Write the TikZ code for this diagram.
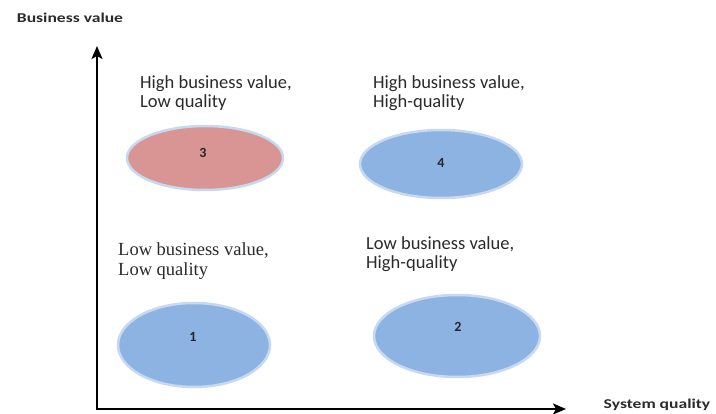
\documentclass[tikz,border=0pt]{standalone}
\usepackage{fontspec}
\setmainfont{Carlito}
\newfontfamily\serifface{Liberation Serif}
\usetikzlibrary{shapes.geometric,arrows.meta}
\definecolor{ellblue}{HTML}{8DB3E2}
\definecolor{ellpink}{HTML}{D99594}
\definecolor{glow}{HTML}{C6D9F1}
\definecolor{txt}{HTML}{2A2A2A}
\tikzset{
  quad/.style={ellipse, draw=glow, line width=2.5pt, inner sep=0pt},
  num/.style={font=\bfseries\fontsize{14}{14}\selectfont, text=black!85, inner sep=0pt},
  lblsans/.style={align=left, anchor=north west, inner sep=0pt, text=txt,
    font=\fontsize{18.5}{19}\selectfont},
  lblserif/.style={align=left, anchor=north west, inner sep=0pt, text=txt,
    font=\serifface\fontsize{18.5}{20}\selectfont},
  axlabel/.style={font=\bfseries\fontsize{13.5}{14}\selectfont, text=txt, inner sep=0pt, xscale=1.3},
  axis/.style={line width=2.2pt, line join=miter, {Stealth[length=13pt,width=11pt,inset=3pt]}-{Stealth[length=13pt,width=11pt,inset=3pt]}}
}
\begin{document}
\begin{tikzpicture}[x=1pt,y=-1pt]
\useasboundingbox (0,0) rectangle (716,414);
% axes
\coordinate (ytop) at (97,46);
\coordinate (origin) at (97,409);
\coordinate (xend) at (566,409);
\draw[axis] (ytop) -- (origin) -- (xend);
\node[axlabel] (ylab) at (70,18) {Business value};
\node[axlabel] (xlab) at (657,405) {System quality};
% ellipses
\node[quad, fill=ellpink, minimum width=156pt, minimum height=64pt] (e3) at (205,158) {};
\node[quad, fill=ellblue, minimum width=162pt, minimum height=68pt] (e4) at (441,164) {};
\node[quad, fill=ellblue, minimum width=152pt, minimum height=84pt] (e1) at (194,345) {};
\node[quad, fill=ellblue, minimum width=166pt, minimum height=82pt] (e2) at (457,336) {};
\node[num] (n3) at (203,153) {3};
\node[num] (n4) at (441,163) {4};
\node[num] (n1) at (193,337) {1};
\node[num] (n2) at (458,327) {2};
% labels
\node[lblsans] (l3) at (140,75) {High business value,\\Low quality};
\node[lblsans] (l4) at (373,75) {High business value,\\High-quality};
\node[lblserif] (l1) at (118,242) {Low business value,\\Low quality};
\node[lblsans] (l2) at (366,236) {Low business value,\\High-quality};
\end{tikzpicture}
\end{document}
